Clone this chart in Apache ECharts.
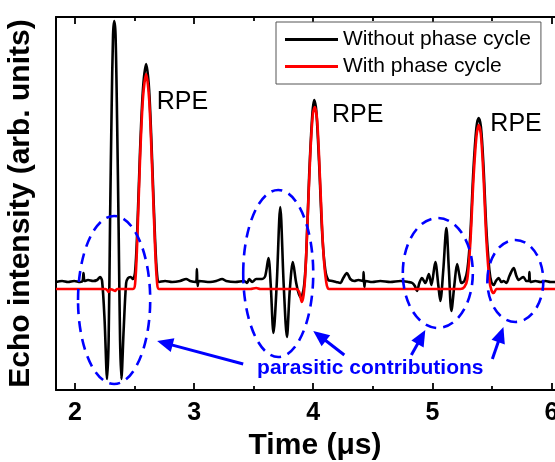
<!DOCTYPE html>
<html>
<head>
<meta charset="utf-8">
<script src="https://cdn.jsdelivr.net/npm/echarts@6/dist/echarts.min.js"></script>
<style>
html,body{margin:0;padding:0;background:#fff}
#main{width:555px;height:462px}
</style>
</head>
<body>
<div id="main"></div>
<script>
// time (us) / echo intensity (arb. units)
let timeNoCycle = [1.840, 1.891, 1.941, 1.992, 2.042, 2.063, 2.071, 2.080, 2.109, 2.151, 2.185, 2.210, 2.227, 2.248, 2.269, 2.282, 2.294, 2.307, 2.319, 2.329, 2.340, 2.353, 2.366, 2.378, 2.389, 2.408, 2.429, 2.445, 2.466, 2.487,
    2.504, 2.521, 2.546, 2.571, 2.597, 2.622, 2.647, 2.672, 2.689, 2.706,
    2.756, 2.815, 2.882, 2.933, 2.966, 3.017, 3.023, 3.029, 3.042, 3.134, 3.185, 3.235, 3.269, 3.345, 3.420, 3.445, 3.462, 3.487, 3.521, 3.571, 3.597, 3.624, 3.643, 3.666, 3.693, 3.723, 3.752, 3.779, 3.803, 3.829, 3.857, 3.891,
    3.908, 3.924, 3.941, 3.966, 3.992, 4.008, 4.025, 4.050, 4.076, 4.101, 4.126, 4.160,
    4.193, 4.227, 4.252, 4.283, 4.311, 4.345, 4.378, 4.418, 4.423, 4.429, 4.441, 4.496, 4.563, 4.647, 4.731, 4.798, 4.832, 4.853, 4.871, 4.891, 4.913, 4.941, 4.971, 4.992, 5.025, 5.050, 5.067, 5.092, 5.118, 5.139, 5.160, 5.185, 5.208, 5.227, 5.244, 5.269,
    5.294, 5.319, 5.345, 5.370, 5.389, 5.408, 5.429, 5.454, 5.479, 5.496, 5.515, 5.534, 5.557, 5.580, 5.599, 5.622, 5.647, 5.683, 5.706, 5.725, 5.748, 5.765, 5.790, 5.811, 5.815, 5.824, 5.866, 5.908, 5.950, 5.992, 6.034]
let echoNoCycle = [0.07, 0.08, 0.07, 0.08, 0.07, 0.08, 0.16, 0.08, 0.09, 0.08, 0.09, 0.12, 0.08, -0.31, -0.90, -0.51, 0.69, 1.79, 2.54, 2.68, 2.54, 1.69, 0.59, -0.51, -0.90, -0.41, 0.06, 0.11, 0.12, 0.10,
    0.17, 0.54, 1.39, 2.01, 2.25, 1.99, 1.29, 0.49, 0.14, 0.07,
    0.08, 0.07, 0.08, 0.10, 0.08, 0.07, 0.20, 0.03, 0.08, 0.07, 0.08, 0.10, 0.08, 0.07, 0.08, 0.06, 0.10, 0.07, 0.10, 0.10, 0.13, 0.31, 0.04, -0.44, 0.04, 0.82, 0.04, -0.48, -0.01, 0.27, 0.06, -0.08,
    -0.06, 0.04, 0.34, 1.14, 1.74, 1.89, 1.79, 1.24, 0.54, 0.19, 0.09, 0.08,
    0.07, 0.06, 0.11, 0.16, 0.10, 0.08, 0.09, 0.08, 0.17, 0.02, 0.08, 0.07, 0.08, 0.07, 0.08, 0.07, 0.06, 0.03, -0.02, 0.06, 0.11, 0.06, 0.15, 0.04, 0.27, 0.04, -0.12, 0.19, 0.61, 0.19, -0.22, 0.04, 0.25, 0.14, 0.06, 0.08,
    0.19, 0.54, 1.19, 1.61, 1.71, 1.62, 1.24, 0.59, 0.19, 0.07, 0.04, 0.08, 0.11, 0.07, 0.08, 0.06, 0.13, 0.21, 0.13, 0.09, 0.11, 0.12, 0.08, 0.08, 0.17, 0.07, 0.08, 0.07, 0.08, 0.07, 0.07]

let timeCycle = [1.840, 2.210, 2.252, 2.269, 2.282, 2.294, 2.319, 2.336, 2.353,
    2.487, 2.504, 2.521, 2.546, 2.571, 2.597, 2.622, 2.647, 2.672, 2.689, 2.706,
    3.471, 3.521, 3.555,
    3.857, 3.882, 3.904, 3.919, 3.933, 3.950, 3.975, 3.996, 4.013, 4.034, 4.059, 4.084, 4.109, 4.134,
    5.235, 5.269, 5.294, 5.319, 5.345, 5.370, 5.389, 5.408, 5.429, 5.454, 5.479, 5.496, 5.515, 5.538, 5.571, 6.034]
let echoCycle = [0, 0, 0, -0.01, -0.03, 0, -0.01, -0.02, 0,
    0, 0.05, 0.44, 1.31, 1.92, 2.15, 1.90, 1.21, 0.41, 0.06, 0,
    0, 0.01, 0,
    0, -0.03, -0.13, -0.06, 0.14, 0.61, 1.34, 1.74, 1.82, 1.67, 1.04, 0.39, 0.07, 0,
    0, 0.02, 0.10, 0.46, 1.09, 1.52, 1.64, 1.54, 1.14, 0.49, 0.09, -0.01, -0.04, 0, 0, 0]

let seriesNames = ['Without phase cycle', 'With phase cycle']
let majorTicks = [2, 3, 4, 5, 6]
let minorTicks = [2.5, 3.5, 4.5, 5.5]

// annotations (data coords)
let rpeLabels = [[2.686, 1.865], [4.157, 1.74], [5.487, 1.65]]
let ellipseCenters = [[2.328, -0.11], [3.706, 0.155], [5.046, 0.16], [5.697, 0.08]]
let ellipseRadii = [[0.303, 0.84], [0.294, 0.835], [0.294, 0.55], [0.235, 0.41]]
let arrowTails = [[3.412, -0.75], [4.261, -0.66], [4.824, -0.66], [5.504, -0.70]]
let arrowHeads = [[2.689, -0.52], [4.0, -0.42], [4.941, -0.41], [5.597, -0.38]]
let noteAt = [4.479, -0.79]

const FONT = '"Liberation Sans", Arial, Helvetica, sans-serif'
const BLUE = '#0000ff'

let zip = (xs, ys) => xs.map((x, i) => [x, ys[i]])

let xBase = {
    type: 'value', min: 1.84, max: 6.03,
    splitLine: { show: false },
    axisLabel: { show: false },
    axisLine: { show: false, onZero: false }
}
let tickStyle = { color: '#000', width: 1.8 }

let option = {
    animation: false,
    backgroundColor: '#fff',
    grid: { left: 56, right: 0, top: 17, bottom: 72, containLabel: false, outerBoundsMode: 'none' },
    legend: {
        orient: 'vertical', left: 276, top: 22,
        padding: [7, 10, 7, 9], itemGap: 6,
        itemWidth: 53, itemHeight: 3, icon: 'rect',
        borderColor: '#555', borderWidth: 1, borderRadius: 0,
        backgroundColor: '#fff',
        textStyle: { fontSize: 21, color: '#000', fontFamily: FONT },
        data: seriesNames
    },
    xAxis: [
        Object.assign({}, xBase, {
            position: 'bottom',
            axisLine: { show: true, onZero: false, lineStyle: { color: '#000', width: 2 } },
            axisTick: { show: true, inside: true, length: 7, customValues: majorTicks, lineStyle: tickStyle },
            axisLabel: { show: true, customValues: majorTicks, margin: 11, fontSize: 25, fontWeight: 'bold', color: '#000', fontFamily: FONT },
            name: 'Time (\u03bcs)', nameLocation: 'middle', nameGap: 41, nameMoveOverlap: false,
            nameTextStyle: { fontSize: 30, fontWeight: 'bold', color: '#000', fontFamily: FONT, padding: [0, 0, 0, 19] }
        }),
        Object.assign({}, xBase, {
            position: 'bottom',
            axisTick: { show: true, inside: true, length: 4, customValues: minorTicks, lineStyle: tickStyle }
        }),
        Object.assign({}, xBase, {
            position: 'top',
            axisLine: { show: true, onZero: false, lineStyle: { color: '#000', width: 2 } },
            axisTick: { show: true, inside: true, length: 7, customValues: majorTicks, lineStyle: tickStyle }
        }),
        Object.assign({}, xBase, {
            position: 'top',
            axisTick: { show: true, inside: true, length: 4, customValues: minorTicks, lineStyle: tickStyle }
        })
    ],
    yAxis: {
        type: 'value', min: -1.01, max: 2.72,
        axisLine: { show: true, onZero: false, lineStyle: { color: '#000', width: 2 } },
        axisTick: { show: false },
        axisLabel: { show: false },
        splitLine: { show: false },
        name: 'Echo intensity (arb. units)', nameLocation: 'middle', nameGap: 20, nameMoveOverlap: false,
        nameTextStyle: { fontSize: 30, fontWeight: 'bold', color: '#000', fontFamily: FONT }
    },
    series: [
        {
            name: seriesNames[0], type: 'line', xAxisIndex: 0, yAxisIndex: 0,
            data: zip(timeNoCycle, echoNoCycle),
            symbol: 'none', showSymbol: false, smooth: 0.3,
            lineStyle: { color: '#000', width: 2.6 }, itemStyle: { color: '#000' }, z: 2
        },
        {
            name: seriesNames[1], type: 'line', xAxisIndex: 0, yAxisIndex: 0,
            data: zip(timeCycle, echoCycle),
            symbol: 'none', showSymbol: false, smooth: 0.3,
            lineStyle: { color: '#ff0000', width: 2.6 }, itemStyle: { color: '#ff0000' }, z: 3
        }
    ]
}

let chart = echarts.init(document.getElementById('main'), null, { renderer: 'canvas' })
chart.setOption(option)

let toPx = p => chart.convertToPixel({ xAxisIndex: 0, yAxisIndex: 0 }, p)
let gfx = []

rpeLabels.forEach(p => {
    let q = toPx(p)
    gfx.push({
        type: 'text', z: 50,
        style: { text: 'RPE', x: q[0], y: q[1], fill: '#000', font: '25px ' + FONT,
            align: 'left', verticalAlign: 'middle', textAlign: 'left', textVerticalAlign: 'middle' }
    })
})

ellipseCenters.forEach((c, i) => {
    let q = toPx(c)
    let e = toPx([c[0] + ellipseRadii[i][0], c[1] + ellipseRadii[i][1]])
    gfx.push({
        type: 'ellipse', z: 40,
        shape: { cx: q[0], cy: q[1], rx: Math.abs(e[0] - q[0]), ry: Math.abs(q[1] - e[1]) },
        style: { fill: null, stroke: BLUE, lineWidth: 2.6, lineDash: [11, 7] }
    })
})

arrowTails.forEach((t, i) => {
    let a = toPx(t), b = toPx(arrowHeads[i])
    let dx = b[0] - a[0], dy = b[1] - a[1]
    let len = Math.sqrt(dx * dx + dy * dy)
    let ux = dx / len, uy = dy / len
    let headLen = 16, half = 7
    let bx = b[0] - ux * headLen, by = b[1] - uy * headLen
    gfx.push({
        type: 'line', z: 40,
        shape: { x1: a[0], y1: a[1], x2: bx + ux * 2, y2: by + uy * 2 },
        style: { stroke: BLUE, lineWidth: 3 }
    })
    gfx.push({
        type: 'polygon', z: 40,
        shape: { points: [[b[0], b[1]], [bx - uy * half, by + ux * half], [bx + uy * half, by - ux * half]] },
        style: { fill: BLUE }
    })
})

let n = toPx(noteAt)
gfx.push({
    type: 'text', z: 50,
    style: { text: 'parasitic contributions', x: n[0], y: n[1], fill: BLUE, font: 'bold 21px ' + FONT,
        align: 'center', verticalAlign: 'middle', textAlign: 'center', textVerticalAlign: 'middle' }
})

chart.setOption({ graphic: gfx })
</script>
</body>
</html>
